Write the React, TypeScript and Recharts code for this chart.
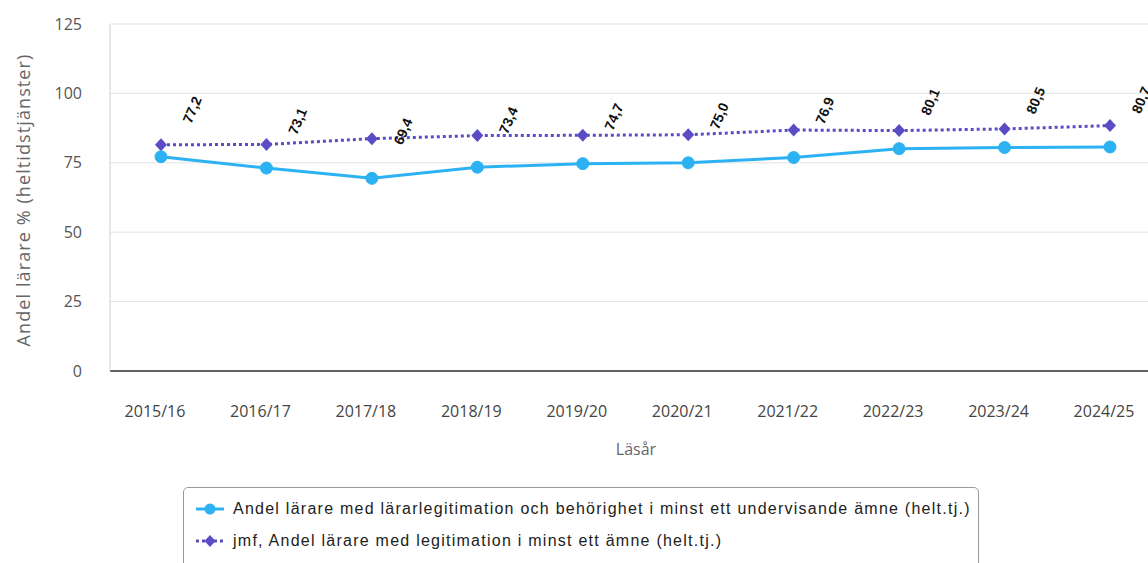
import { LineChart, Line, XAxis, YAxis, CartesianGrid } from 'recharts'

const years = ['2015/16', '2016/17', '2017/18', '2018/19', '2019/20', '2020/21', '2021/22', '2022/23', '2023/24', '2024/25']
const behorighet = [77.2, 73.1, 69.4, 73.4, 74.7, 75.0, 76.9, 80.1, 80.5, 80.7]
const jmfLegitimation = [81.5, 81.6, 83.7, 84.8, 84.9, 85.1, 86.8, 86.6, 87.2, 88.4]
const yTicks = [0, 25, 50, 75, 100, 125]

const BLUE = '#2cb2f2'
const PURPLE = '#5a4cc4'

const data = years.map((year, i) => ({
  year,
  behorighet: behorighet[i],
  jmf: jmfLegitimation[i],
}))

const ValueLabel = (props: any) => {
  const { x, y, value, index } = props
  const lx = x + 31
  const ly = y - 47
  return (
    <text
      key={`lbl-${index}`}
      x={lx}
      y={ly}
      transform={`rotate(-67, ${lx}, ${ly})`}
      textAnchor="middle"
      dominantBaseline="central"
      fontFamily="'Liberation Sans', Arial, sans-serif"
      fontWeight="bold"
      fontSize={14}
      fill="#111"
    >
      {Number(value).toFixed(1).replace('.', ',')}
    </text>
  )
}

const Diamond = (props: any) => {
  const { cx, cy, index } = props
  if (cx == null || cy == null) return null
  return (
    <path
      key={`d-${index}`}
      d={`M${cx} ${cy - 6.5} L${cx + 6} ${cy} L${cx} ${cy + 6.5} L${cx - 6} ${cy} Z`}
      fill={PURPLE}
    />
  )
}

const YLabel = () => {
  const cy = 200
  return (
    <text
      x={23}
      y={cy}
      transform={`rotate(-90, 23, ${cy})`}
      textAnchor="middle"
      dominantBaseline="central"
      fontFamily="'Open Sans', sans-serif"
      fontSize={18}
      letterSpacing={1.1}
      fill="#666"
    >
      Andel lärare % (heltidstjänster)
    </text>
  )
}

const XLabel = (props: any) => {
  const { viewBox } = props
  const cx = viewBox.x + viewBox.width / 2
  return (
    <text
      x={cx}
      y={449}
      textAnchor="middle"
      dominantBaseline="central"
      fontFamily="'Open Sans', sans-serif"
      fontSize={16}
      fill="#666"
    >
      Läsår
    </text>
  )
}

export default function App() {
  return (
    <div style={{ position: 'fixed', left: 0, top: 0, width: 1148, height: 563, overflow: 'hidden', background: '#fff' }}>
      <LineChart width={1180} height={563} data={data} margin={{ top: 24, right: 18, bottom: 92, left: 0 }}>
        <CartesianGrid vertical={false} stroke="#e3e3e3" />
        <XAxis
          dataKey="year"
          height={100}
          padding={{ left: 51, right: 52 }}
          axisLine={{ stroke: '#333', strokeWidth: 1.5 }}
          tickLine={false}
          tickMargin={29}
          tick={{ fontSize: 16, fill: '#444', fontFamily: "'Open Sans', sans-serif", dx: -6 }}
          interval={0}
          label={<XLabel />}
        />
        <YAxis
          domain={[0, 125]}
          ticks={yTicks}
          width={110}
          axisLine={{ stroke: '#cfcfcf' }}
          tickLine={false}
          tick={{ fontSize: 16, fill: '#555', fontFamily: "'Open Sans', sans-serif", dx: -20 }}
          label={<YLabel />}
        />
        <Line
          dataKey="jmf"
          stroke={PURPLE}
          strokeWidth={3}
          strokeDasharray="3 3"
          dot={<Diamond />}
          activeDot={false}
          isAnimationActive={false}
        />
        <Line
          dataKey="behorighet"
          stroke={BLUE}
          strokeWidth={3}
          dot={{ r: 6, fill: BLUE, stroke: BLUE, strokeWidth: 1 }}
          activeDot={false}
          label={<ValueLabel />}
          isAnimationActive={false}
        />
      </LineChart>
      <div
        style={{
          position: 'absolute',
          left: 183,
          top: 487,
          width: 796,
          height: 90,
          border: '1px solid #999',
          borderRadius: 5,
          boxSizing: 'border-box',
          fontFamily: "'Liberation Sans', Arial, sans-serif",
          fontSize: 16,
          letterSpacing: 1.25,
          color: '#222',
        }}
      >
        <div style={{ position: 'absolute', left: 12, top: 12, display: 'flex', alignItems: 'center', whiteSpace: 'nowrap' }}>
          <svg width={28} height={16} style={{ marginRight: 9 }}>
            <line x1={0} y1={8} x2={28} y2={8} stroke={BLUE} strokeWidth={3} />
            <circle cx={14} cy={8} r={5.5} fill={BLUE} />
          </svg>
          <span>Andel lärare med lärarlegitimation och behörighet i minst ett undervisande ämne (helt.tj.)</span>
        </div>
        <div style={{ position: 'absolute', left: 12, top: 44, display: 'flex', alignItems: 'center', whiteSpace: 'nowrap' }}>
          <svg width={28} height={16} style={{ marginRight: 9 }}>
            <line x1={0} y1={8} x2={28} y2={8} stroke={PURPLE} strokeWidth={3} strokeDasharray="3 3" />
            <path d="M14 2 L19.5 8 L14 14 L8.5 8 Z" fill={PURPLE} />
          </svg>
          <span>jmf, Andel lärare med legitimation i minst ett ämne (helt.tj.)</span>
        </div>
      </div>
    </div>
  )
}
